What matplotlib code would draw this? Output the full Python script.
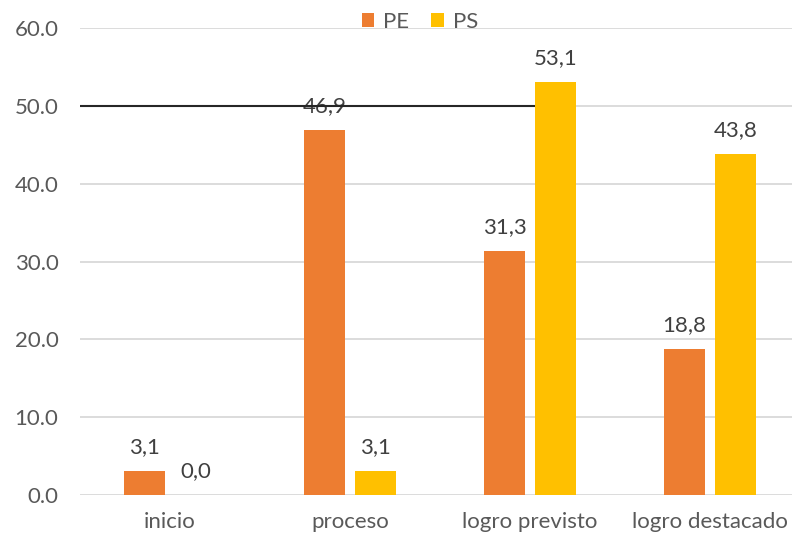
import matplotlib
matplotlib.use("Agg")
import matplotlib.pyplot as plt
import numpy as np

categories = ["inicio", "proceso", "logro previsto", "logro destacado"]
pe_values = [3.1, 46.9, 31.3, 18.8]
ps_values = [0.0, 3.1, 53.1, 43.8]
series_names = ["PE", "PS"]
reference_level = 50.0

PE_COLOR = "#ED7D31"
PS_COLOR = "#FFC000"
TEXT = "#404040"
TICK_TEXT = "#595959"
GRID = "#D9D9D9"
FS = 16

plt.rcParams["font.family"] = ["Lato", "DejaVu Sans"]

fig = plt.figure(figsize=(7.92, 5.38), dpi=100)
ax = fig.add_axes([80 / 792, 43 / 538, 720 / 792, 467 / 538])

x = np.arange(len(categories))
width = 0.228
offset = 0.142

bars_pe = ax.bar(x - offset, pe_values, width, color=PE_COLOR, label=series_names[0], zorder=2)
# PE labels sit under the PS bars, so a PS bar may clip a neighbouring label
for rect, val in zip(bars_pe, pe_values):
    ax.annotate(f"{val:.1f}".replace(".", ","),
                (rect.get_x() + rect.get_width() / 2, val),
                xytext=(0, 10), textcoords="offset points",
                ha="center", va="bottom", fontsize=FS, color=TEXT, zorder=2.5)

bars_ps = ax.bar(x + offset, ps_values, width, color=PS_COLOR, label=series_names[1], zorder=3)
for rect, val in zip(bars_ps, ps_values):
    ax.annotate(f"{val:.1f}".replace(".", ","),
                (rect.get_x() + rect.get_width() / 2, val),
                xytext=(0, 10), textcoords="offset points",
                ha="center", va="bottom", fontsize=FS, color=TEXT, zorder=4)

# reference line at 50, drawn over the PE label but under the PS bars
ax.hlines(reference_level, -0.5, 2 + offset - width / 2, color="#262626", linewidth=1.5, zorder=2.8)

ax.set_xlim(-0.5, 3.5)
ax.set_ylim(0, 60)
ax.set_yticks(np.arange(0, 61, 10))
ax.set_yticklabels([f"{v:.1f}" for v in np.arange(0, 61, 10)])
ax.set_xticks(x)
ax.set_xticklabels(categories)

ax.yaxis.grid(True, color=GRID, linewidth=1.3, zorder=0)
ax.set_axisbelow(True)
for s in ax.spines.values():
    s.set_visible(False)
ax.tick_params(axis="both", length=0, labelsize=FS, colors=TICK_TEXT)
ax.tick_params(axis="y", pad=15.5)
ax.tick_params(axis="x", pad=12.5)

fig.legend(handles=[bars_pe, bars_ps], labels=series_names, loc="center",
           bbox_to_anchor=(420 / 792, 1 - 22 / 538), ncol=2, frameon=False,
           fontsize=FS, handlelength=0.55, handleheight=0.55, handletextpad=0.4,
           columnspacing=1.0, labelcolor=TICK_TEXT)

fig.savefig("out.png", dpi=100)
